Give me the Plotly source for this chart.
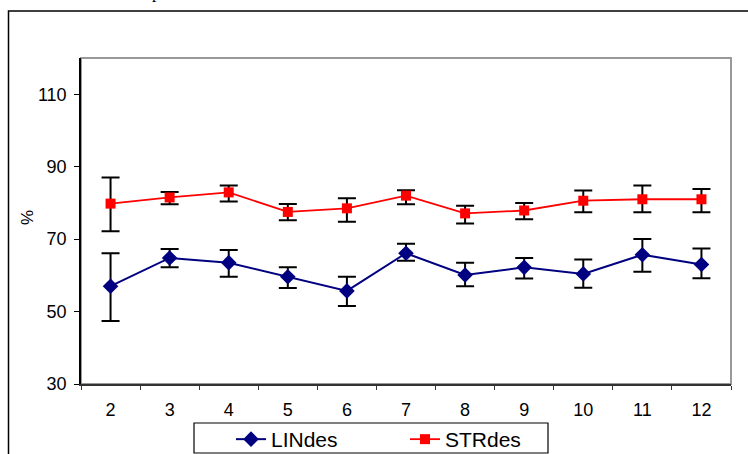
import plotly.graph_objects as go

categories = ["2", "3", "4", "5", "6", "7", "8", "9", "10", "11", "12"]
lin_values = [57.0, 64.8, 63.5, 59.6, 55.7, 66.1, 60.1, 62.2, 60.4, 65.7, 63.0]
lin_err_plus = [9.1, 2.5, 3.5, 2.6, 3.9, 2.6, 3.4, 2.6, 4.0, 4.3, 4.4]
lin_err_minus = [9.6, 2.6, 3.9, 3.1, 4.2, 2.1, 3.1, 3.1, 3.8, 4.7, 3.8]
str_values = [79.8, 81.5, 82.9, 77.5, 78.5, 82.0, 77.1, 77.9, 80.6, 81.0, 81.0]
str_err_plus = [7.2, 1.5, 1.9, 2.2, 2.8, 1.5, 2.1, 2.1, 2.8, 3.8, 2.8]
str_err_minus = [7.6, 1.9, 2.5, 2.3, 3.7, 2.4, 2.8, 2.4, 3.2, 3.6, 3.6]
y_ticks = [30, 50, 70, 90, 110]

FONT = "Liberation Sans, Arial, sans-serif"
L, R, T, B = 81, 731, 58, 384
PW, PH = R - L, B - T


def px_x(x):
    return (x - L) / PW


def px_y(y):
    return (B - y) / PH


fig = go.Figure()
fig.add_trace(go.Scatter(
    x=categories, y=lin_values, name="LINdes", mode="lines+markers",
    line=dict(color="#000080", width=2),
    marker=dict(symbol="diamond", size=12, color="#000080"),
    error_y=dict(type="data", symmetric=False, array=lin_err_plus,
                 arrayminus=lin_err_minus, color="black", thickness=2, width=9),
))
fig.add_trace(go.Scatter(
    x=categories, y=str_values, name="STRdes", mode="lines+markers",
    line=dict(color="#FF0000", width=1.8),
    marker=dict(symbol="square", size=10, color="#FF0000"),
    error_y=dict(type="data", symmetric=False, array=str_err_plus,
                 arrayminus=str_err_minus, color="black", thickness=2, width=9),
))

fig.update_layout(
    width=748, height=454,
    margin=dict(l=L, r=748 - R, t=T, b=454 - B, autoexpand=False),
    paper_bgcolor="white", plot_bgcolor="white",
    font=dict(family=FONT, size=17, color="black"),
    showlegend=True,
    legend=dict(
        orientation="h", x=px_x(231), y=px_y(419), xanchor="left", yanchor="top",
        borderwidth=0, bgcolor="rgba(0,0,0,0)",
        font=dict(family=FONT, size=21, color="black"),
        entrywidth=129, entrywidthmode="pixels",
        itemsizing="trace",
    ),
    xaxis=dict(
        type="category", tickson="boundaries", ticks="outside", ticklen=4,
        tickcolor="#333", showline=True, linecolor="#333", linewidth=1.5,
        showgrid=False, zeroline=False, tickfont=dict(size=18),
        range=[-0.5, 10.5], ticklabelstandoff=9,
    ),
    yaxis=dict(
        range=[30, 120], tickvals=y_ticks, ticks="outside", ticklen=5,
        tickcolor="black", showline=True, linecolor="black", linewidth=1.5,
        showgrid=False, zeroline=False, tickfont=dict(size=18),
        ticklabelstandoff=4,
    ),
    shapes=[
        dict(type="rect", xref="paper", yref="paper", x0=0, x1=1, y0=0, y1=1,
             line=dict(color="#999999", width=2), layer="below"),
        dict(type="rect", xref="paper", yref="paper",
             x0=px_x(8.5), x1=1.2, y0=-0.4, y1=px_y(11),
             line=dict(color="black", width=1.5), layer="below"),
        dict(type="rect", xref="paper", yref="paper",
             x0=px_x(194), x1=px_x(548), y0=px_y(453), y1=px_y(423),
             line=dict(color="black", width=1.2), fillcolor="white", layer="below"),
    ],
    annotations=[
        dict(text="%", xref="paper", yref="paper", x=px_x(27), y=px_y(218),
             xanchor="center", yanchor="middle",
             showarrow=False, textangle=-90, font=dict(size=17)),
        dict(text="p", xref="paper", yref="paper", x=px_x(156),
             y=px_y(4), xanchor="center", yanchor="bottom", showarrow=False,
             font=dict(family="Liberation Serif, serif", size=17)),
    ],
)

fig.write_html("out.html")
